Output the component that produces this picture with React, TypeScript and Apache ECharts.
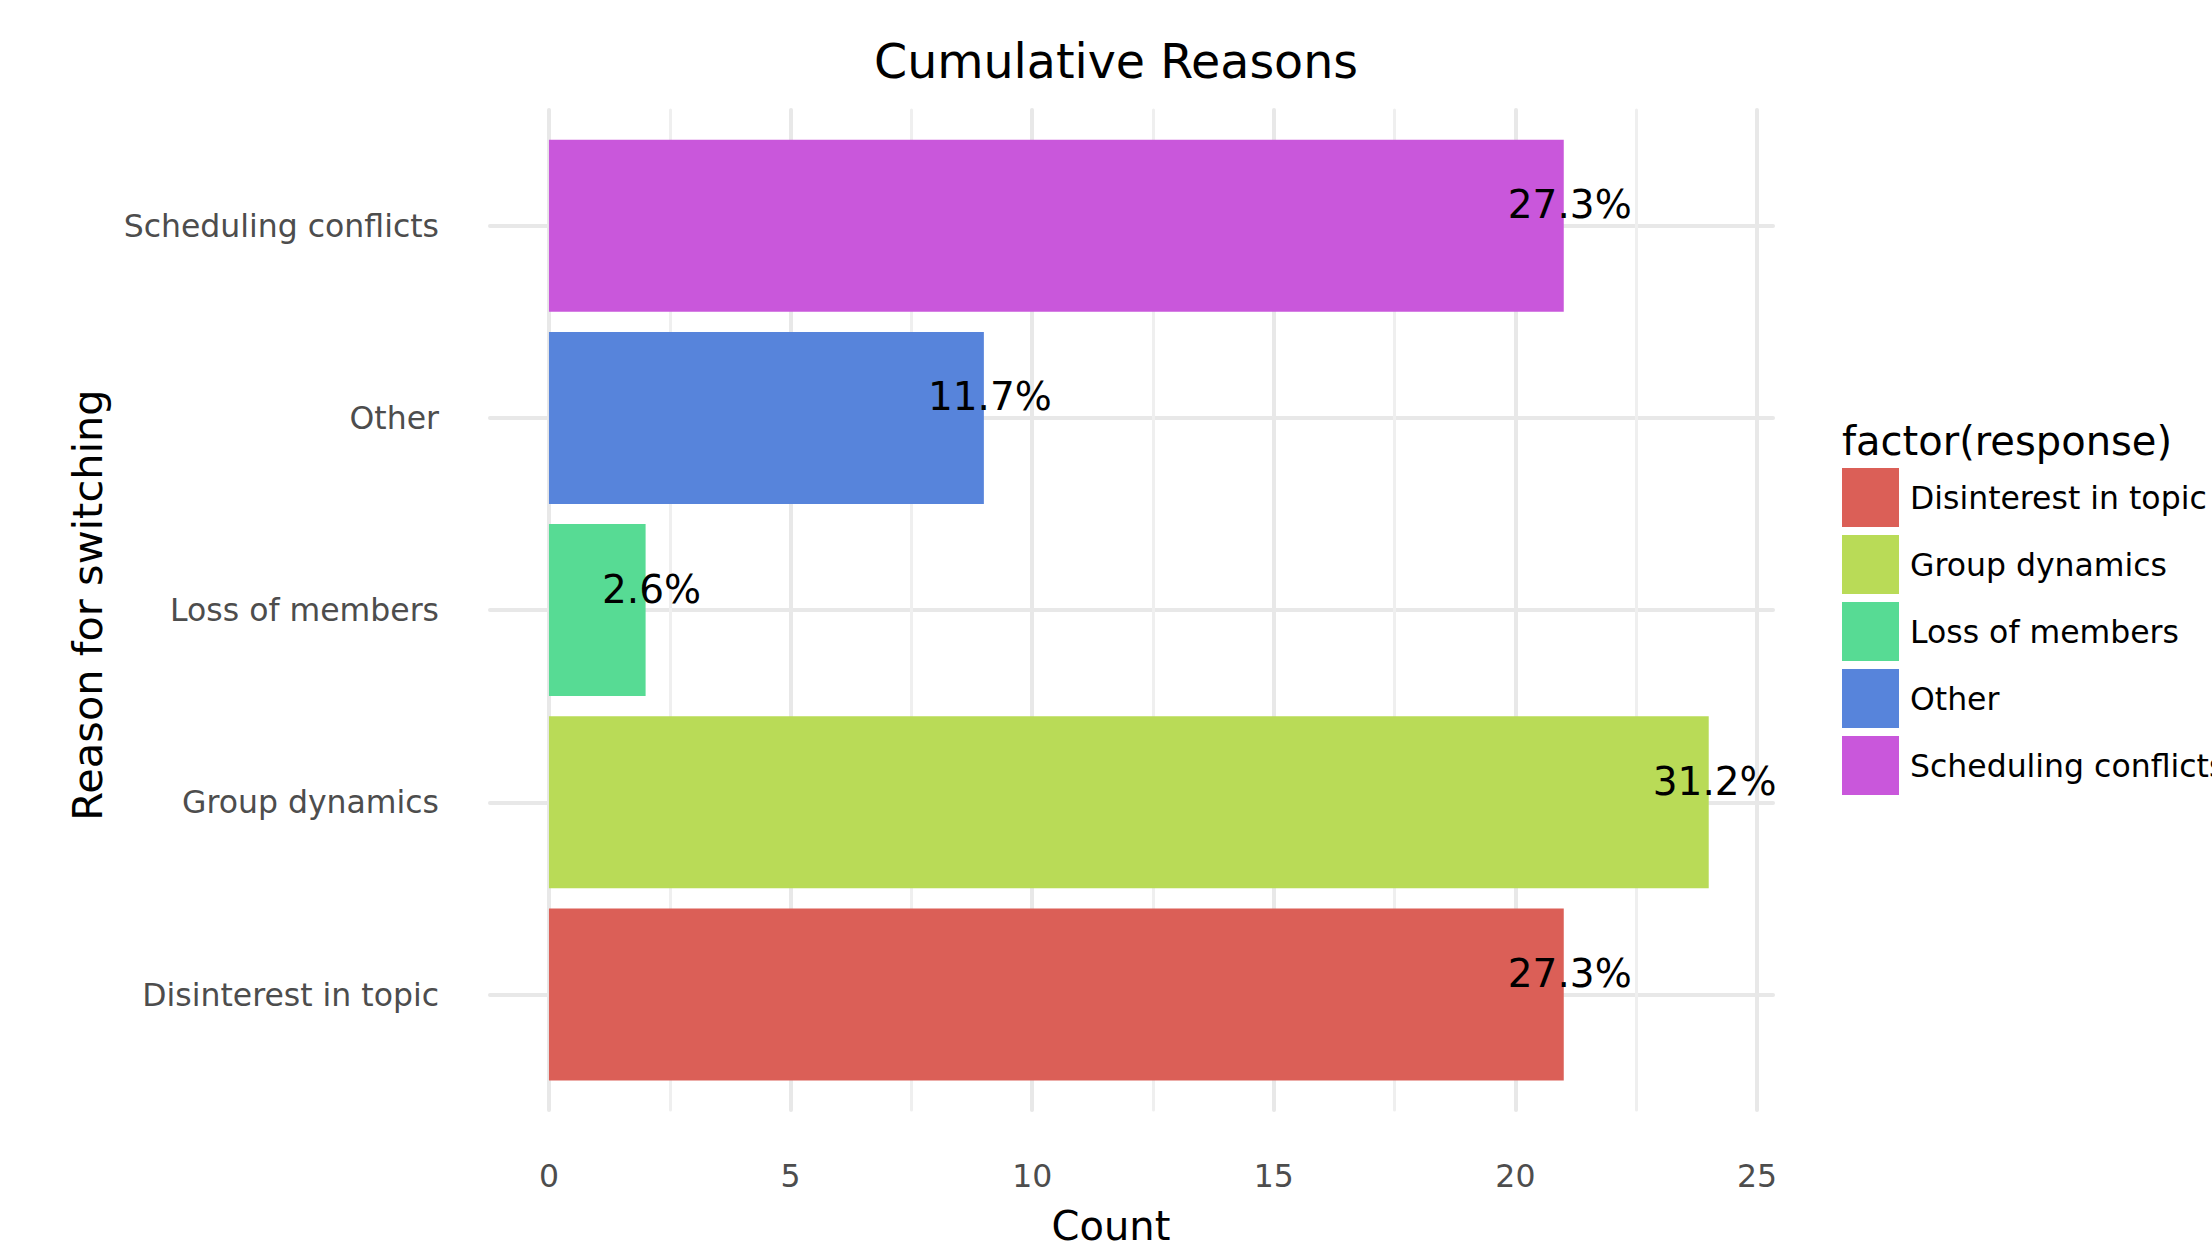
import React, { useEffect, useRef } from "react";
import * as echarts from "echarts";

const categories = [
  "Disinterest in topic",
  "Group dynamics",
  "Loss of members",
  "Other",
  "Scheduling conflicts",
];
const counts = [21, 24, 2, 9, 21];
const percentLabels = ["27.3%", "31.2%", "2.6%", "11.7%", "27.3%"];
const colors = ["#db5f57", "#b9db57", "#57db94", "#5784db", "#c957db"];
const xTicks = [0, 5, 10, 15, 20, 25];

const FONT = "DejaVu Sans";

export default function App() {
  const ref = useRef<HTMLDivElement>(null);
  useEffect(() => {
    if (!ref.current) return;
    const chart = echarts.init(ref.current, undefined, { renderer: "svg" });

    const series: any[] = categories.map((name, i) => ({
      type: "bar",
      name,
      xAxisIndex: 0,
      yAxisIndex: 0,
      stack: "all",
      barWidth: 172,
      clip: false,
      z: 3,
      itemStyle: { color: colors[i] },
      data: categories.map((_, j) => (j === i ? counts[i] : "-")),
      label: {
        show: true,
        position: ["100%", "50%"],
        align: "center",
        verticalAlign: "middle",
        offset: [6, -21],
        formatter: () => percentLabels[i],
        fontFamily: FONT,
        fontSize: 39,
        color: "#000000",
      },
    }));

    chart.setOption({
      animation: false,
      backgroundColor: "#ffffff",
      title: {
        text: "Cumulative Reasons",
        left: 1111,
        top: 56,
        textAlign: "center",
        textVerticalAlign: "middle",
        textStyle: { fontFamily: FONT, fontSize: 47.5, fontWeight: "normal", color: "#000" },
      },
      legend: {
        orient: "vertical",
        left: 1842,
        top: 468,
        padding: 0,
        itemWidth: 57,
        itemHeight: 59,
        itemGap: 8,
        icon: "rect",
        data: categories,
        textStyle: {
          fontFamily: FONT,
          fontSize: 31.5,
          color: "#000",
          padding: [0, 0, 0, 6],
        },
      },
      grid: [
        { left: 490, top: 225.7, width: 1283, height: 768.8, containLabel: false },
        { left: 549, top: 110, width: 1208, height: 1000, containLabel: false },
      ],
      xAxis: [
        {
          type: "value",
          gridIndex: 0,
          min: -1.22,
          max: 25.33,
          show: false,
        },
        {
          type: "value",
          gridIndex: 1,
          min: 0,
          max: 25,
          interval: 5,
          axisLine: { show: false },
          axisTick: { show: false },
          axisLabel: {
            show: true,
            margin: 50,
            fontFamily: FONT,
            fontSize: 31.5,
            color: "#4d4d4d",
            formatter: (v: number) => (xTicks.includes(v) ? String(v) : ""),
          },
          splitLine: { show: true, lineStyle: { color: "#e8e8e8", width: 4, cap: "round" } },
          minorTick: { show: false, splitNumber: 2 },
          minorSplitLine: { show: true, lineStyle: { color: "#efefef", width: 3, cap: "round" } },
        },
      ],
      yAxis: [
        {
          type: "category",
          gridIndex: 0,
          data: categories,
          boundaryGap: false,
          axisLine: { show: false },
          axisTick: { show: false },
          axisLabel: {
            margin: 51,
            fontFamily: FONT,
            fontSize: 31.5,
            color: "#4d4d4d",
          },
          splitLine: { show: true, lineStyle: { color: "#e8e8e8", width: 4, cap: "round" } },
        },
        {
          type: "value",
          gridIndex: 1,
          show: false,
          splitLine: { show: false },
        },
      ],
      graphic: [
        {
          type: "text",
          x: 1111,
          y: 1226,
          style: {
            text: "Count",
            font: `40px "${FONT}"`,
            lineHeight: 36,
            fill: "#000",
            align: "center",
            verticalAlign: "middle",
          },
        },
        {
          type: "text",
          x: 87,
          y: 605,
          rotation: Math.PI / 2,
          style: {
            text: "Reason for switching",
            font: `41.5px "${FONT}"`,
            fill: "#000",
            align: "center",
            verticalAlign: "middle",
          },
        },
        {
          type: "text",
          x: 1842,
          y: 441,
          style: {
            text: "factor(response)",
            font: `40px "${FONT}"`,
            fill: "#000",
            align: "left",
            verticalAlign: "middle",
          },
        },
      ],
      series,
    });
    return () => chart.dispose();
  }, []);

  return (
    <div
      ref={ref}
      style={{ position: "fixed", left: 0, top: 0, width: 2212, height: 1245 }}
    />
  );
}
